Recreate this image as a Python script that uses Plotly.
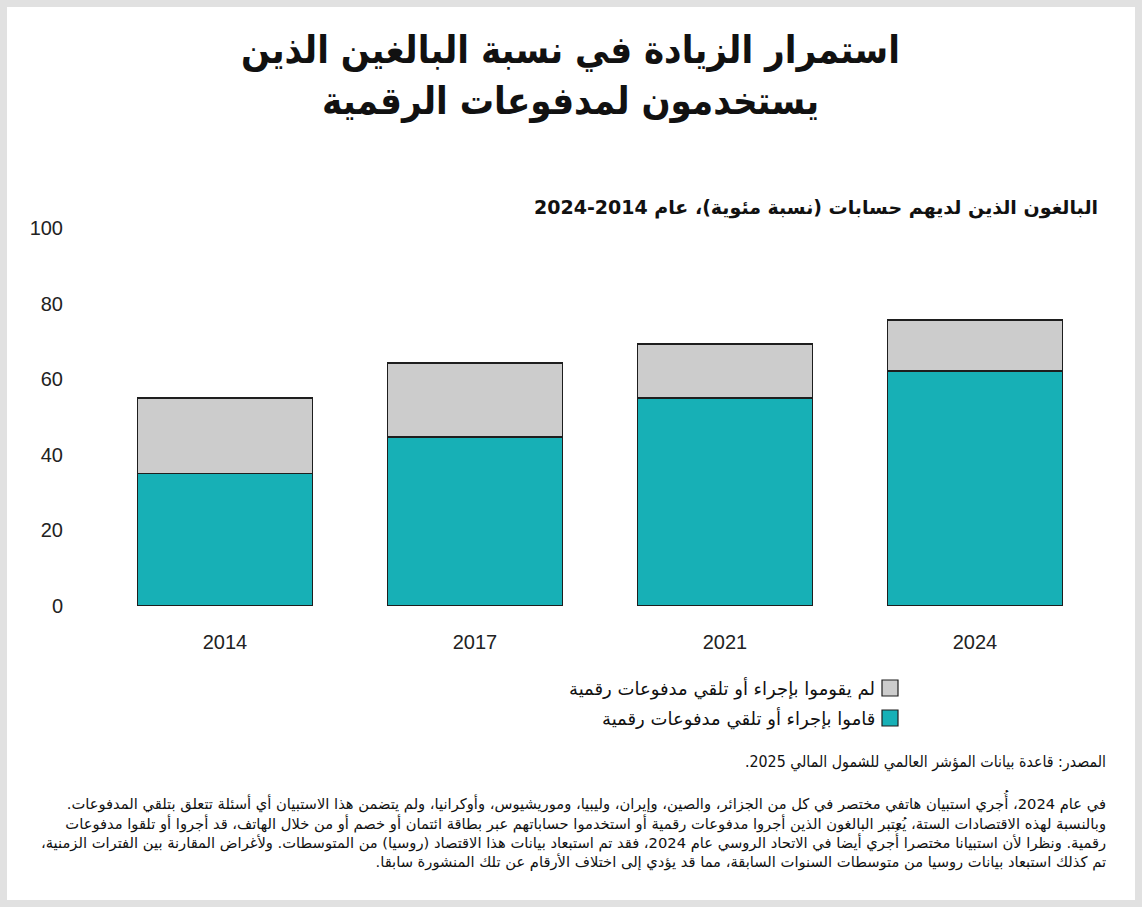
import plotly.graph_objects as go

years = ["2014", "2017", "2021", "2024"]
made_digital = [35.0, 44.7, 55.0, 62.2]
no_digital = [20.0, 19.6, 14.3, 13.5]
y_ticks = [0, 20, 40, 60, 80, 100]

name_made = "قاموا بإجراء أو تلقي مدفوعات رقمية"
name_not = "لم يقوموا بإجراء أو تلقي مدفوعات رقمية"

title_lines = ["استمرار الزيادة في نسبة البالغين الذين", "يستخدمون لمدفوعات الرقمية"]
subtitle = "البالغون الذين لديهم حسابات (نسبة مئوية)، عام 2014\u200f-\u200f2024"
source = "المصدر: قاعدة بيانات المؤشر العالمي للشمول المالي 2025."
note_lines = [
    "في عام 2024، أُجري استبيان هاتفي مختصر في كل من الجزائر، والصين، وإيران، وليبيا، وموريشيوس، وأوكرانيا، ولم يتضمن هذا الاستبيان أي أسئلة تتعلق بتلقي المدفوعات.",
    "وبالنسبة لهذه الاقتصادات الستة، يُعتبر البالغون الذين أجروا مدفوعات رقمية أو استخدموا حساباتهم عبر بطاقة ائتمان أو خصم أو من خلال الهاتف، قد أجروا أو تلقوا مدفوعات",
    "رقمية. ونظرا لأن استبيانا مختصرا أُجري أيضا في الاتحاد الروسي عام 2024، فقد تم استبعاد بيانات هذا الاقتصاد (روسيا) من المتوسطات. ولأغراض المقارنة بين الفترات الزمنية،",
    "تم كذلك استبعاد بيانات روسيا من متوسطات السنوات السابقة، مما قد يؤدي إلى اختلاف الأرقام عن تلك المنشورة سابقا.",
]

TEAL = "#17b0b6"
GRAY = "#cccccc"
EDGE = "#1e1e1e"
AR_FONT = "DejaVu Sans"
TITLE_FONT = "DejaVu Sans Condensed"
NUM_FONT = "Liberation Sans"

W, H = 1142, 907
L, R, T, B = 100, 42, 228, 301
PW, PH = W - L - R, H - T - B


def px(x):
    return (x - L) / PW


def py(y):
    return (H - B - y) / PH


def rtl(s):
    return "\u200f" + s + "\u200f"


fig = go.Figure()
fig.add_trace(go.Bar(x=years, y=made_digital, name=name_made, marker=dict(color=TEAL, line=dict(color=EDGE, width=1.5)), showlegend=False))
fig.add_trace(go.Bar(x=years, y=no_digital, name=name_not, marker=dict(color=GRAY, line=dict(color=EDGE, width=1.5)), showlegend=False))

shapes = [
    dict(type="rect", xref="paper", yref="paper", x0=px(7), x1=px(1135), y0=py(900), y1=py(7),
         fillcolor="white", line=dict(width=0), layer="below"),
]
legend_items = [(name_not, GRAY, 688), (name_made, TEAL, 718)]
annotations = []
for name, col, yc in legend_items:
    shapes.append(dict(type="rect", xref="paper", yref="paper", x0=px(882), x1=px(898), y0=py(yc + 8), y1=py(yc - 8),
                       fillcolor=col, line=dict(color=EDGE, width=1.2)))
    annotations.append(dict(text=rtl(name), xref="paper", yref="paper", x=px(877), y=py(yc), xanchor="right", yanchor="middle",
                            showarrow=False, font=dict(family=AR_FONT, size=18, color="#111")))

for i, line in enumerate(title_lines):
    annotations.append(dict(text="<b>" + rtl(line) + "</b>", xref="paper", yref="paper", x=px(570), y=py(50 + 51 * i),
                            xanchor="center", yanchor="middle", showarrow=False,
                            font=dict(family=TITLE_FONT, size=38, color="#111")))

annotations.append(dict(text="<b>" + rtl(subtitle) + "</b>", xref="paper", yref="paper", x=px(1100), y=py(207),
                        xanchor="right", yanchor="middle", showarrow=False, font=dict(family=AR_FONT, size=19, color="#111")))

annotations.append(dict(text=rtl(source), xref="paper", yref="paper", x=px(1108), y=py(762),
                        xanchor="right", yanchor="middle", showarrow=False, font=dict(family=TITLE_FONT, size=15.8, color="#111")))

annotations.append(dict(text="<br>".join(rtl(s) for s in note_lines), xref="paper", yref="paper", x=px(1108), y=py(788),
                        xanchor="right", yanchor="top", align="right", showarrow=False,
                        font=dict(family=AR_FONT, size=14.7, color="#111")))

fig.update_layout(
    width=W, height=H, autosize=False,
    margin=dict(l=L, r=R, t=T, b=B),
    paper_bgcolor="#e1e1e1", plot_bgcolor="rgba(0,0,0,0)",
    barmode="stack", bargap=0.3,
    shapes=shapes, annotations=annotations,
    showlegend=False,
    xaxis=dict(type="category", range=[-0.5, 3.5], showgrid=False, zeroline=False, showline=False,
               ticks="outside", ticklen=18, tickcolor="rgba(0,0,0,0)",
               tickfont=dict(family=NUM_FONT, size=20, color="#222")),
    yaxis=dict(range=[0, 100], tickvals=y_ticks, showgrid=False, zeroline=False, showline=False,
               ticks="outside", ticklen=32, tickcolor="rgba(0,0,0,0)",
               tickfont=dict(family=NUM_FONT, size=20, color="#222")),
)

fig.write_html("out.html", config={"displayModeBar": False},
               post_script="document.body.style.margin='0';document.body.style.padding='0';")
